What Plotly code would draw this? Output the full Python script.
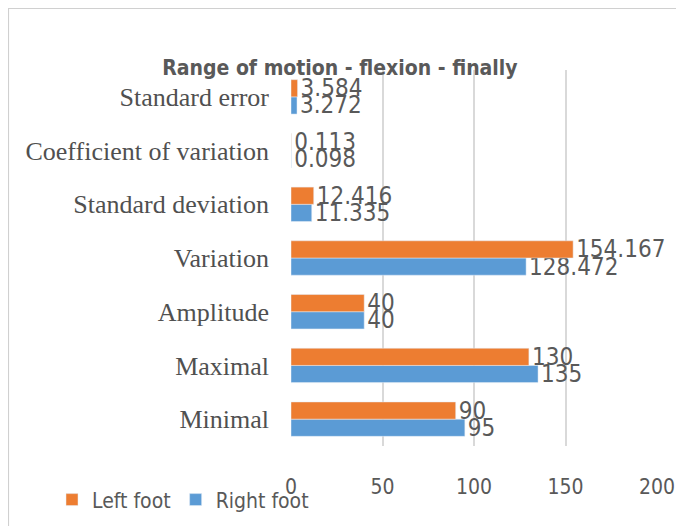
import plotly.graph_objects as go

categories = ["Minimal", "Maximal", "Amplitude", "Variation", "Standard deviation",
              "Coefficient of variation", "Standard error"]
left_foot = [90, 130, 40, 154.167, 12.416, 0.113, 3.584]
right_foot = [95, 135, 40, 128.472, 11.335, 0.098, 3.272]
left_labels = ["90", "130", "40", "154.167", "12.416", "0.113", "3.584"]
right_labels = ["95", "135", "40", "128.472", "11.335", "0.098", "3.272"]
x_ticks = [0, 50, 100, 150, 200]

SANS = "Liberation Sans Narrow, DejaVu Sans Condensed, Arial Narrow, sans-serif"
SERIF = "Liberation Serif, Times New Roman, serif"
GRAY = "#595959"

fig = go.Figure()
fig.add_trace(go.Bar(
    y=categories, x=right_foot, name="Right foot", orientation="h",
    marker=dict(color="#5B9BD5"), text=right_labels, textposition="outside",
    textfont=dict(family=SANS, size=24, color=GRAY), cliponaxis=False,
    constraintext="none", legendrank=2,
))
fig.add_trace(go.Bar(
    y=categories, x=left_foot, name="Left foot", orientation="h",
    marker=dict(color="#ED7D31"), text=left_labels, textposition="outside",
    textfont=dict(family=SANS, size=24, color=GRAY), cliponaxis=False,
    constraintext="none", legendrank=1,
))

fig.update_layout(
    width=676, height=518,
    paper_bgcolor="white", plot_bgcolor="white",
    barmode="group", bargap=0.36, bargroupgap=0.0,
    margin=dict(l=283, r=27, t=62, b=80, autoexpand=False),
    title=dict(text="<b>Range of motion - flexion - finally</b>",
               x=0.491, xanchor="center", y=0.884, yanchor="middle",
               font=dict(family=SANS, size=21, color=GRAY)),
    xaxis=dict(range=[0, 200], tickvals=x_ticks, showgrid=True, gridcolor="#D9D9D9",
               gridwidth=1.5, zeroline=False, showline=False, automargin=False,
               ticklabelstandoff=26,
               tickfont=dict(family=SANS, size=21, color=GRAY), ticks=""),
    yaxis=dict(categoryorder="array", categoryarray=categories, showgrid=False,
               showline=False, ticks="", ticklabelstandoff=21, automargin=False,
               tickfont=dict(family=SERIF, size=26, color="#505050")),
    legend=dict(orientation="h", x=-0.653, xanchor="left", y=-0.089, yanchor="top",
                bgcolor="rgba(0,0,0,0)",
                font=dict(family=SANS, size=21, color=GRAY), itemwidth=30),
    showlegend=True,
)
fig.add_shape(type="rect", xref="paper", yref="paper", x0=-0.773, x1=1.1, y0=-0.25, y1=1.165,
              line=dict(color="#D0D0D0", width=2), fillcolor="rgba(0,0,0,0)", layer="below")
fig.write_html("out.html")
